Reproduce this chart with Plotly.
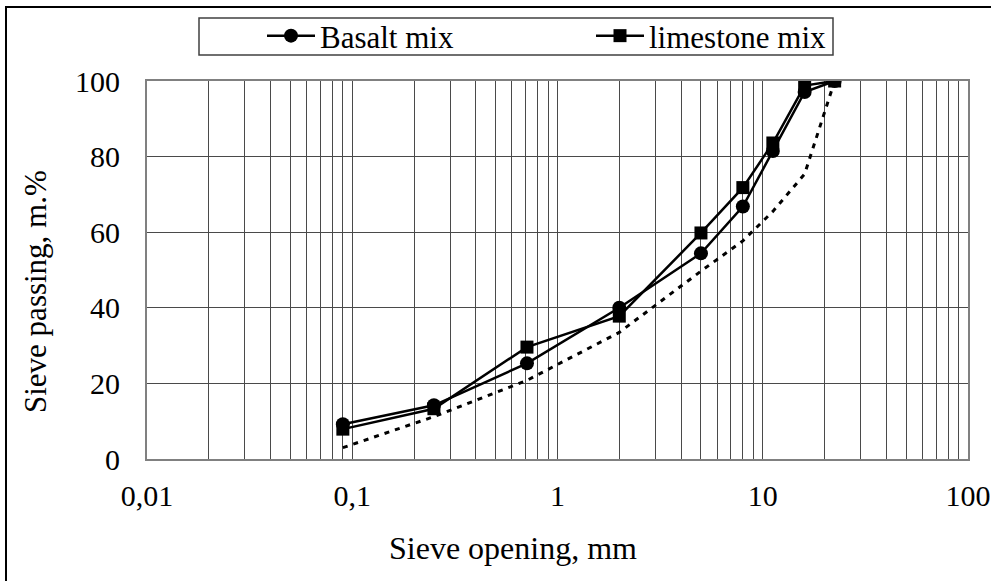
import plotly.graph_objects as go

# Sieve sizes (mm) and passing percentages
sieve_mm = [0.09, 0.25, 0.71, 2, 5, 8, 11.2, 16, 22.4]
basalt_pass = [9.2, 14.2, 25.3, 40.0, 54.4, 66.8, 81.5, 97.1, 100]
limestone_pass = [7.9, 13.3, 29.6, 37.8, 59.8, 71.8, 83.6, 98.8, 100]
limit_pass = [3.0, 11.2, 20.8, 33.5, 49.7, 57.7, 65.5, 75.4, 100]

x_tick_vals = [0.01, 0.1, 1, 10, 100]
x_tick_text = ["0,01", "0,1", "1", "10", "100"]
y_tick_vals = [0, 20, 40, 60, 80, 100]

x_title = "Sieve opening, mm"
y_title = "Sieve passing, m.%"

W, H = 991, 581
ML, MR, MT, MB = 147, 23, 81, 122
PW, PH = W - ML - MR, H - MT - MB

FONT = "Liberation Serif, Times New Roman, serif"


def px_x(px):
    return (px - ML) / PW


def px_y(py):
    return (H - MB - py) / PH


fig = go.Figure()

fig.add_trace(go.Scatter(
    x=sieve_mm, y=basalt_pass, name="Basalt mix", mode="lines+markers",
    line=dict(color="black", width=2.5),
    marker=dict(symbol="circle", size=14, color="black"),
))
fig.add_trace(go.Scatter(
    x=sieve_mm, y=limestone_pass, name="limestone mix", mode="lines+markers",
    line=dict(color="black", width=2.5),
    marker=dict(symbol="square", size=13, color="black"),
))
fig.add_trace(go.Scatter(
    x=sieve_mm, y=limit_pass, name="limit", mode="lines", showlegend=False,
    line=dict(color="black", width=3, dash="5px,6px"),
))

grid_col = "#4a4a4a"

fig.update_xaxes(
    type="log", range=[-2, 2],
    tickvals=x_tick_vals, ticktext=x_tick_text,
    showgrid=True, gridcolor=grid_col, gridwidth=1,
    minor=dict(dtick="D1", showgrid=True, gridcolor=grid_col, gridwidth=1, ticks=""),
    showline=True, linecolor="#808080", linewidth=2, mirror=True,
    ticks="", ticklabelstandoff=9,
    tickfont=dict(family=FONT, size=30, color="black"),
    automargin=False, zeroline=False,
)
fig.update_yaxes(
    range=[0, 100], tickvals=y_tick_vals,
    showgrid=True, gridcolor=grid_col, gridwidth=1,
    showline=True, linecolor="#808080", linewidth=2, mirror=True,
    ticks="", ticklabelstandoff=19,
    tickfont=dict(family=FONT, size=30, color="black"),
    automargin=False, zeroline=False,
)

# axis titles
fig.add_annotation(text=x_title, xref="paper", yref="paper",
                   x=px_x(513), y=px_y(548), xanchor="center", yanchor="middle",
                   showarrow=False, font=dict(family=FONT, size=32, color="black"))
fig.add_annotation(text=y_title, xref="paper", yref="paper", textangle=-90,
                   x=px_x(35), y=px_y(292), xanchor="center", yanchor="middle",
                   showarrow=False, font=dict(family=FONT, size=31, color="black"))

# legend frame and outer chart frame
fig.add_shape(type="rect", xref="paper", yref="paper",
              x0=px_x(199), x1=px_x(833), y0=px_y(55), y1=px_y(18),
              line=dict(color="#404040", width=1.5), fillcolor="white", layer="below")
fig.add_shape(type="rect", xref="paper", yref="paper",
              x0=px_x(6), x1=px_x(W + 20), y0=px_y(H + 20), y1=px_y(7),
              line=dict(color="black", width=2), layer="below")

fig.update_layout(
    width=W, height=H,
    margin=dict(l=ML, r=MR, t=MT, b=MB, autoexpand=False),
    paper_bgcolor="white", plot_bgcolor="white",
    font=dict(family=FONT, size=30, color="black"),
    legend=dict(
        orientation="h", x=px_x(262), xanchor="left",
        y=px_y(36), yanchor="middle",
        bgcolor="rgba(0,0,0,0)", borderwidth=0,
        itemwidth=48, entrywidth=266, entrywidthmode="pixels",
        font=dict(family=FONT, size=31, color="black"),
    ),
)

fig.write_html("out.html")
